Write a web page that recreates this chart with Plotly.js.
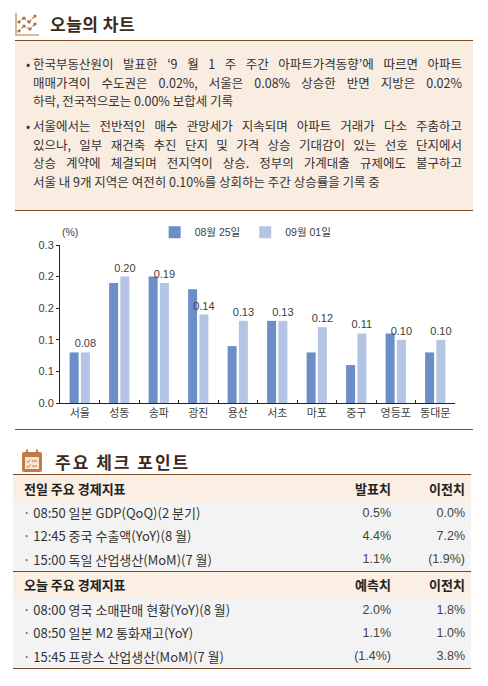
<!DOCTYPE html>
<html>
<head>
<meta charset="utf-8">
<script src="https://cdn.plot.ly/plotly-3.0.1.min.js"></script>
<style>
  body{margin:0;width:488px;height:686px;overflow:hidden;background:#fff;
       font-family:"Noto Sans CJK KR","Noto Sans",sans-serif;color:#333;position:relative;}
  .abs{position:absolute;}
  .ttl{font-weight:bold;font-size:17px;color:#3b2a1c;letter-spacing:0.5px;}
  .hline{position:absolute;background:#7b4b27;}
  #memo{left:15px;top:41px;width:458px;height:169px;background:#f9ece1;box-sizing:border-box;
        padding:14px 11px 0 18px;font-size:12.5px;line-height:18.6px;color:#333;}
  #memo p{margin:0 0 6.4px 0;position:relative;}
  #memo p .bul{position:absolute;left:-7px;top:0;}
  #memo .ln{display:block;white-space:nowrap;text-align:justify;text-align-last:justify;}
  #memo .ln.end{text-align-last:left;}
  #chart{left:0;top:211px;width:488px;height:217px;}
  table{position:absolute;left:13px;top:474px;width:458px;border-collapse:collapse;}
  td{padding:0;white-space:nowrap;}
  tr.hd td{background:#fbeee3;font-weight:bold;font-size:13px;color:#222;height:26px;}
  tr.rw td{background:#f3f3f3;font-size:13px;color:#333;height:23.3px;}
  tr.first td{border-top:1.5px solid #7b4b27;}
  tr.last td{border-bottom:1.5px solid #7b4b27;}
  td.c0{padding-left:11px;width:287px;}
  tr.rw td.c0{padding-left:10px;}
  td.c1{text-align:right;width:80px;}
  td.c2{text-align:right;padding-right:6px;}
  tr.rw td.c1,tr.rw td.c2{font-family:"Liberation Sans","Noto Sans CJK KR",sans-serif;font-size:12.5px;color:#444;}
</style>
</head>
<body>

<!-- 오늘의 차트 -->
<svg class="abs" style="left:13px;top:11px" width="28" height="28" viewBox="0 0 28 28">
  <path d="M3,2 V24 H26" fill="none" stroke="#c9a27f" stroke-width="1.6"/>
  <polyline points="6,11 11,7 16,11 22,5" fill="none" stroke="#b46d38" stroke-width="1.2" stroke-dasharray="2,1.5"/>
  <polyline points="6,20 11,15 17,18 22,13" fill="none" stroke="#b46d38" stroke-width="1.2" stroke-dasharray="2,1.5"/>
  <g fill="#b46d38">
    <circle cx="6" cy="11" r="1.6"/><circle cx="11" cy="7" r="1.6"/><circle cx="16" cy="11" r="1.6"/><circle cx="22" cy="5" r="1.6"/>
    <circle cx="6" cy="20" r="1.6"/><circle cx="11" cy="15" r="1.6"/><circle cx="17" cy="18" r="1.6"/><circle cx="22" cy="13" r="1.6"/>
  </g>
</svg>
<div class="abs ttl" style="left:50px;top:11px;">오늘의 차트</div>
<div class="hline" style="left:15px;top:39.5px;width:458px;height:1.5px;"></div>

<div id="memo" class="abs">
  <p><span class="bul">•</span>
    <span class="ln">한국부동산원이 발표한 ‘9 월 1 주 주간 아파트가격동향’에 따르면 아파트</span>
    <span class="ln">매매가격이 수도권은 0.02%, 서울은 0.08% 상승한 반면 지방은 0.02%</span>
    <span class="ln end">하락, 전국적으로는 0.00% 보합세 기록</span>
  </p>
  <p><span class="bul">•</span>
    <span class="ln">서울에서는 전반적인 매수 관망세가 지속되며 아파트 거래가 다소 주춤하고</span>
    <span class="ln">있으나, 일부 재건축 추진 단지 및 가격 상승 기대감이 있는 선호 단지에서</span>
    <span class="ln">상승 계약에 체결되며 전지역이 상승. 정부의 가계대출 규제에도 불구하고</span>
    <span class="ln end">서울 내 9개 지역은 여전히 0.10%를 상회하는 주간 상승률을 기록 중</span>
  </p>
</div>
<div class="hline" style="left:15px;top:209.5px;width:458px;height:1.5px;"></div>

<div id="chart" class="abs"></div>
<div class="hline" style="left:15px;top:428.5px;width:458px;height:1.5px;"></div>

<!-- 주요 체크 포인트 -->
<svg class="abs" style="left:21px;top:449px" width="22" height="24" viewBox="0 0 22 24">
  <rect x="1" y="3" width="20" height="20" rx="2" fill="#c17a45"/>
  <rect x="4" y="8" width="14" height="12" fill="#f6e4d4"/>
  <rect x="5" y="0.5" width="2" height="5" fill="#c17a45"/>
  <rect x="15" y="0.5" width="2" height="5" fill="#c17a45"/>
  <path d="M5.5,12 l1.5,1.5 l2.5,-3 M5.5,17 l1.5,1.5 l2.5,-3" fill="none" stroke="#c17a45" stroke-width="1"/>
  <path d="M11,12 h5 M11,17 h5" stroke="#c17a45" stroke-width="1"/>
</svg>
<div class="abs ttl" style="left:55px;top:449px;letter-spacing:2px;">주요 체크 포인트</div>

<table>
  <tr class="hd first"><td class="c0">전일 주요 경제지표</td><td class="c1">발표치</td><td class="c2">이전치</td></tr>
  <tr class="rw"><td class="c0">· 08:50 일본 GDP(QoQ)(2 분기)</td><td class="c1">0.5%</td><td class="c2">0.0%</td></tr>
  <tr class="rw"><td class="c0">· 12:45 중국 수출액(YoY)(8 월)</td><td class="c1">4.4%</td><td class="c2">7.2%</td></tr>
  <tr class="rw"><td class="c0">· 15:00 독일 산업생산(MoM)(7 월)</td><td class="c1">1.1%</td><td class="c2">(1.9%)</td></tr>
  <tr class="hd first"><td class="c0">오늘 주요 경제지표</td><td class="c1">예측치</td><td class="c2">이전치</td></tr>
  <tr class="rw"><td class="c0">· 08:00 영국 소매판매 현황(YoY)(8 월)</td><td class="c1">2.0%</td><td class="c2">1.8%</td></tr>
  <tr class="rw"><td class="c0">· 08:50 일본 M2 통화재고(YoY)</td><td class="c1">1.1%</td><td class="c2">1.0%</td></tr>
  <tr class="rw last"><td class="c0">· 15:45 프랑스 산업생산(MoM)(7 월)</td><td class="c1">(1.4%)</td><td class="c2">3.8%</td></tr>
</table>

<script>
// 서울 구별 주간 아파트 매매가격 변동률
let districts = ['서울','성동','송파','광진','용산','서초','마포','중구','영등포','동대문'];
let week_0825 = [0.08, 0.19, 0.20, 0.18, 0.09, 0.13, 0.08, 0.06, 0.11, 0.08];
let week_0901 = [0.08, 0.20, 0.19, 0.14, 0.13, 0.13, 0.12, 0.11, 0.10, 0.10];
let y_tickvals = [0, 0.05, 0.10, 0.15, 0.20, 0.25];
let y_ticktext = ['0.0','0.1','0.1','0.2','0.2','0.3'];
let series_names = ['08월 25일','09월 01일'];

let traces = [
    {
        x: districts,
        y: week_0825,
        name: series_names[0],
        type: 'bar',
        marker: {color: '#6b8dc8'},
        textposition: 'none',
        hoverinfo: 'skip'
    },
    {
        x: districts,
        y: week_0901,
        name: series_names[1],
        type: 'bar',
        marker: {color: '#b4c4e4'},
        texttemplate: '%{y:.2f}',
        textposition: 'outside',
        constraintext: 'none',
        cliponaxis: false,
        textfont: {size: 11, color: '#404040', family: 'Liberation Sans, Noto Sans CJK KR'},
        hoverinfo: 'skip'
    }
];

let layout = {
    width: 488,
    height: 217,
    // 범례가 위 여백을 늘리지 않도록 autoexpand 끔
    margin: {l: 60, r: 33, t: 34, b: 25, pad: 0, autoexpand: false},
    paper_bgcolor: '#fff',
    plot_bgcolor: '#fff',
    font: {family: 'Liberation Sans, Noto Sans CJK KR', size: 11, color: '#404040'},
    barmode: 'group',
    bargap: 0.43,
    bargroupgap: 0.2,
    showlegend: true,
    legend: {
        orientation: 'h',
        x: 0.47, xanchor: 'center',
        y: 1.08, yanchor: 'middle',
        font: {size: 10.5, color: '#404040'},
        itemwidth: 30,
        tracegroupgap: 0
    },
    xaxis: {
        type: 'category',
        showline: true, linecolor: '#222', linewidth: 1,
        ticks: 'inside', tickson: 'boundaries', ticklen: 3, tickcolor: '#222',
        showgrid: false, zeroline: false,
        tickfont: {size: 11, family: 'Noto Sans CJK KR', color: '#404040'}
    },
    yaxis: {
        range: [0, 0.25],
        tickvals: y_tickvals,
        ticktext: y_ticktext,
        showline: true, linecolor: '#222', linewidth: 1,
        ticks: 'outside', ticklen: 3, tickcolor: '#222',
        showgrid: false, zeroline: false,
        tickfont: {size: 11, color: '#404040'}
    },
    annotations: [{
        text: '(%)',
        xref: 'paper', yref: 'paper',
        x: 0.0, y: 1.08,
        xanchor: 'left', yanchor: 'middle',
        showarrow: false,
        font: {size: 10.5, color: '#404040'}
    }]
};

Plotly.newPlot('chart', traces, layout, {displayModeBar: false, staticPlot: true});
</script>
</body>
</html>
